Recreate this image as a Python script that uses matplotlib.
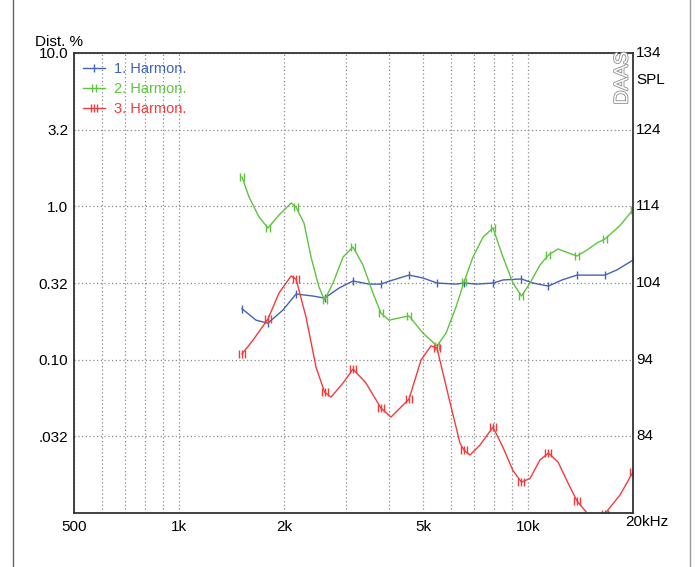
import matplotlib
matplotlib.use('Agg')
import matplotlib.pyplot as plt
import matplotlib.patheffects as pe
import matplotlib.transforms as mtransforms
from matplotlib.path import Path
from matplotlib.lines import Line2D
from matplotlib.ticker import FixedLocator, NullFormatter

plt.rcParams['font.family'] = ['Liberation Sans', 'DejaVu Sans']

# marker frequencies (Hz), one per measured point
mark_f = [1515, 1798, 2164, 2612, 3151, 3791, 4561, 5486, 6557, 7938,
          9579, 11450, 13815, 16624, 20000]

# 1. Harmon. (blue), distortion in %
h1_f = [1515, 1662, 1798, 1986, 2164, 2421, 2612, 2874, 3151, 3503, 3791,
        4103, 4561, 5002, 5486, 6218, 6557, 7144, 7938, 8480, 9579, 10340,
        11450, 12515, 13815, 15057, 16624, 17995, 20000]
h1_v = [0.215, 0.181, 0.173, 0.211, 0.268, 0.260, 0.252, 0.293, 0.326, 0.311,
        0.311, 0.331, 0.356, 0.341, 0.316, 0.311, 0.316, 0.311, 0.316, 0.331,
        0.336, 0.316, 0.302, 0.331, 0.356, 0.356, 0.356, 0.385, 0.446]

# 2. Harmon. (green)
h2_f = [1515, 1587, 1695, 1798, 1934, 2094, 2164, 2281, 2389, 2518, 2612,
        2763, 2951, 3151, 3367, 3596, 3791, 3996, 4561, 5002, 5486, 5824,
        6218, 6557, 6957, 7434, 7938, 8480, 9059, 9579, 10137, 10826, 11450,
        12193, 13024, 13815, 14765, 15768, 16624, 18357, 20000]
h2_v = [1.553, 1.150, 0.852, 0.722, 0.877, 1.051, 0.989, 0.778, 0.467, 0.298,
        0.245, 0.316, 0.467, 0.543, 0.414, 0.272, 0.201, 0.181, 0.193, 0.149,
        0.123, 0.149, 0.220, 0.321, 0.467, 0.630, 0.722, 0.467, 0.316, 0.26,
        0.316, 0.414, 0.481, 0.527, 0.498, 0.474, 0.519, 0.577, 0.612, 0.75,
        0.95]

# 3. Harmon. (red)
h3_f = [1515, 1629, 1798, 1934, 2094, 2164, 2311, 2469, 2612, 2726, 2951,
        3151, 3434, 3791, 4049, 4561, 4937, 5274, 5486, 5938, 6383, 6557,
        6820, 7285, 7938, 8480, 9059, 9579, 10137, 10826, 11450, 12193, 13024,
        13815, 14765, 15768, 16624, 18357, 20000]
h3_v = [0.109, 0.134, 0.184, 0.272, 0.351, 0.336, 0.190, 0.0895, 0.0615,
        0.057, 0.0704, 0.0868, 0.0704, 0.0483, 0.0422, 0.0553, 0.0994, 0.123,
        0.119, 0.056, 0.0286, 0.0257, 0.0239, 0.0277, 0.0363, 0.0268, 0.0189,
        0.0159, 0.0168, 0.0222, 0.0246, 0.0215, 0.0157, 0.012, 0.010, 0.0092,
        0.0099, 0.0131, 0.0185]

left_ticks = [10.0, 3.162, 1.0, 0.3162, 0.1, 0.03162]
left_labels = ['10.0', '3.2', '1.0', '0.32', '0.10', '.032']
spl_ticks = [134, 124, 114, 104, 94, 84]
x_major = [500, 1000, 2000, 5000, 10000, 20000]
x_labels = ['500', '1k', '2k', '5k', '10k', '']
x_minor = [600, 700, 800, 900, 3000, 4000, 6000, 7000, 8000, 9000]

blue = '#4262b4'
green = '#5ec43e'
red = '#f23c3c'

# custom tick markers: |, ||, |||
MV, LN = Path.MOVETO, Path.LINETO
m1 = Path([(0, -1), (0, 1)], [MV, LN])
m2 = Path([(-0.5, -1), (-0.5, 1), (0.5, -1), (0.5, 1)], [MV, LN, MV, LN])
m3 = Path([(-0.9, -1), (-0.9, 1), (0, -1), (0, 1), (0.9, -1), (0.9, 1)],
          [MV, LN, MV, LN, MV, LN])

fig = plt.figure(figsize=(7, 5.67), dpi=100)
ax = fig.add_axes([74/700, 54/567, 559/700, 460/567])
ax.set_xscale('log')
ax.set_yscale('log')
ax.set_xlim(500, 20000)
ax.set_ylim(0.01, 10)

series = [(h1_f, h1_v, blue, m1, '1. Harmon.'),
          (h2_f, h2_v, green, m2, '2. Harmon.'),
          (h3_f, h3_v, red, m3, '3. Harmon.')]
for f, v, c, m, lab in series:
    idx = [i for i, ff in enumerate(f) if ff in mark_f]
    ax.plot(f, v, color=c, lw=1.0, marker=m, markevery=idx, markersize=5.5,
            markeredgewidth=1.0, label=lab)

ax.xaxis.set_major_locator(FixedLocator(x_major))
ax.set_xticklabels(x_labels)
ax.xaxis.set_minor_locator(FixedLocator(x_minor))
ax.xaxis.set_minor_formatter(NullFormatter())
ax.yaxis.set_major_locator(FixedLocator(left_ticks))
ax.set_yticklabels(left_labels)
ax.yaxis.set_minor_locator(FixedLocator([]))
ax.tick_params(axis='both', which='both', length=0, labelsize=11)
ax.tick_params(axis='x', pad=5)
ax.tick_params(axis='y', pad=4)
ax.grid(True, which='both', color='#8a8a8a', linestyle=(0, (1, 2)), lw=0.9)
for s in ax.spines.values():
    s.set_color('#333333')
    s.set_linewidth(1.3)

# right SPL scale: 10 % = 134 dB, 20 dB per decade
trans = mtransforms.blended_transform_factory(ax.transAxes, ax.transData)
for d in spl_ticks:
    ax.text(1.006, 10*10**((d - 134)/20), str(d), transform=trans,
            fontsize=11, ha='left', va='center')

leg = ax.legend(loc='upper left', frameon=False, fontsize=10.5,
                handlelength=1.5, handletextpad=0.6, labelspacing=0.4,
                borderaxespad=0.45, borderpad=0.2)
for txt, c in zip(leg.get_texts(), [blue, green, red]):
    txt.set_color(c)

fig.text(35/700, 1 - 42/567, 'Dist. %', fontsize=11, va='center', ha='left')
fig.text(636/700, 1 - 80/567, 'SPL', fontsize=11, va='center', ha='left')
fig.text(625/700, 1 - 515/567, '20kHz', fontsize=11, va='top', ha='left')
fig.text(623/700, 1 - 78/567, 'DAAS', fontsize=14, rotation=90,
         va='center', ha='center', color='white',
         path_effects=[pe.withStroke(linewidth=1.2, foreground='#8c8c8c')])

fig.add_artist(Line2D([13/700, 13/700], [0, 1], color='#666666', lw=1.0))
fig.add_artist(Line2D([690/700, 690/700], [0, 1], color='#999999', lw=1.0))

fig.savefig('out.png', dpi=100)
